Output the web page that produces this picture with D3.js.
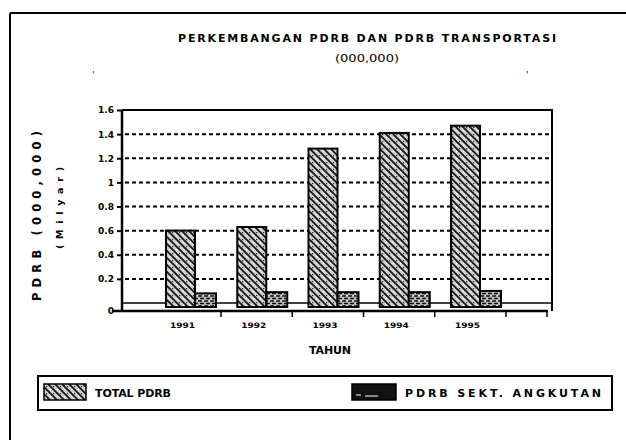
<!DOCTYPE html>
<html><head><meta charset="utf-8">
<script src="https://cdn.jsdelivr.net/npm/d3@7"></script>
<style>body{margin:0;background:#fff}svg{display:block}</style>
</head><body>
<svg id="c" width="626" height="440"></svg>
<script>
// ---- data ----
const years = ["1991", "1992", "1993", "1994", "1995"];
const totalPdrb = [0.60, 0.63, 1.28, 1.41, 1.47];
const pdrbAngkutan = [0.08, 0.09, 0.09, 0.09, 0.10];
const yTicks = [0, 0.2, 0.4, 0.6, 0.8, 1, 1.2, 1.4, 1.6];
const yTickLabels = ["0", "0.2", "0.4", "0.6", "0.8", "1", "1.2", "1.4", "1.6"];
const seriesNames = ["TOTAL PDRB", "PDRB SEKT. ANGKUTAN"];
const titleLines = ["PERKEMBANGAN PDRB DAN PDRB TRANSPORTASI", "(000,000)"];
const yTitle = "PDRB (000,000)";
const yTitle2 = "(Milyar)";
const xTitle = "TAHUN";

// ---- layout ----
const svg = d3.select("#c");
const font = "'DejaVu Sans', sans-serif";
const plotL = 122, plotR = 552, plotT = 110, floorY = 303, axisY = 311;

const defs = svg.append("defs");
const pA = defs.append("pattern").attr("id", "hatchA").attr("patternUnits", "userSpaceOnUse")
  .attr("width", 7).attr("height", 7);
pA.append("rect").attr("width", 7).attr("height", 7).attr("fill", "#cfcfcf");
pA.append("path").attr("d", "M0,0 L7,7 M-2,5 L2,9 M5,-2 L9,2").attr("stroke", "#111").attr("stroke-width", 1.7);
pA.append("rect").attr("x", 4).attr("y", 1).attr("width", 1.2).attr("height", 1.2).attr("fill", "#222");
pA.append("rect").attr("x", 1).attr("y", 4).attr("width", 1.2).attr("height", 1.2).attr("fill", "#fff");

const pB = defs.append("pattern").attr("id", "hatchB").attr("patternUnits", "userSpaceOnUse")
  .attr("width", 6).attr("height", 5);
pB.append("rect").attr("width", 6).attr("height", 5).attr("fill", "#bdbdbd");
pB.append("path").attr("d", "M0,1 L4,1 M2,3.5 L6,3.5").attr("stroke", "#111").attr("stroke-width", 1.3);
pB.append("rect").attr("x", 5).attr("y", 0).attr("width", 1).attr("height", 1).attr("fill", "#fff");

const pC = defs.append("pattern").attr("id", "darkB").attr("patternUnits", "userSpaceOnUse")
  .attr("width", 44).attr("height", 16);
pC.append("rect").attr("width", 44).attr("height", 16).attr("fill", "#111");
pC.append("path").attr("d", "M4,11 L9,11 M13,12 L26,12").attr("stroke", "#fff").attr("stroke-width", 1);

// scales
const x = d3.scaleBand().domain(years).range([159.4, 515.6]).paddingInner(0).paddingOuter(0);
const y = d3.scaleLinear().domain([0, 1.6]).range([floorY, plotT]);
const totalW = 29, sectW = 21;
const cx = d => x(d) + x.bandwidth() / 2;

// outer frame
svg.append("line").attr("x1", 10).attr("x2", 626).attr("y1", 13).attr("y2", 13).attr("stroke", "#000").attr("stroke-width", 2);
svg.append("line").attr("x1", 10).attr("x2", 10).attr("y1", 13).attr("y2", 440).attr("stroke", "#000").attr("stroke-width", 2);

// titles
svg.append("text").attr("x", 367).attr("y", 42).attr("text-anchor", "middle")
  .attr("font-family", font).attr("font-weight", "bold").attr("font-size", 11)
  .attr("textLength", 378).attr("lengthAdjust", "spacing").text(titleLines[0]);
svg.append("text").attr("x", 367).attr("y", 62).attr("text-anchor", "middle")
  .attr("font-family", font).attr("font-size", 11)
  .attr("textLength", 64).attr("lengthAdjust", "spacingAndGlyphs").text(titleLines[1]);
// small specks
svg.append("text").attr("x", 92).attr("y", 78).attr("font-family", font).attr("font-size", 9).text("'");
svg.append("text").attr("x", 526).attr("y", 78).attr("font-family", font).attr("font-size", 9).text("'");

// gridlines
svg.append("g").selectAll("line").data(yTicks.filter(v => v > 0 && v < 1.6)).join("line")
  .attr("x1", plotL + 3).attr("x2", plotR - 2)
  .attr("y1", d => y(d)).attr("y2", d => y(d))
  .attr("stroke", "#000").attr("stroke-width", 2).attr("stroke-dasharray", "4,3");

// floor line at zero
svg.append("line").attr("x1", plotL).attr("x2", plotR).attr("y1", y(0)).attr("y2", y(0))
  .attr("stroke", "#000").attr("stroke-width", 1.5);

// plot frame (top & right)
svg.append("path").attr("d", `M${plotL},${plotT} H${plotR} V${axisY}`).attr("fill", "none")
  .attr("stroke", "#000").attr("stroke-width", 2);

// bars
const g = svg.append("g");
g.selectAll("rect.tot").data(years).join("rect").attr("class", "tot")
  .attr("x", d => cx(d) - totalW).attr("width", totalW)
  .attr("y", (d, i) => y(totalPdrb[i])).attr("height", (d, i) => y(0) - y(totalPdrb[i]) + 4)
  .attr("fill", "url(#hatchA)").attr("stroke", "#000").attr("stroke-width", 2);
g.selectAll("rect.sec").data(years).join("rect").attr("class", "sec")
  .attr("x", d => cx(d)).attr("width", sectW)
  .attr("y", (d, i) => y(pdrbAngkutan[i])).attr("height", (d, i) => y(0) - y(pdrbAngkutan[i]) + 4)
  .attr("fill", "url(#hatchB)").attr("stroke", "#000").attr("stroke-width", 2);

// y axis
const yAxis = svg.append("g").attr("transform", `translate(${plotL},0)`)
  .call(d3.axisLeft(y).tickValues(yTicks).tickFormat((d, i) => yTickLabels[i]).tickSize(5).tickSizeOuter(0));
yAxis.select(".domain").remove();
yAxis.selectAll(".tick").filter(d => d === 0).attr("transform", `translate(0,${axisY})`);
yAxis.selectAll("line").attr("stroke", "#000").attr("stroke-width", 2);
yAxis.selectAll("text").attr("font-family", font).attr("font-weight", "bold").attr("font-size", 9).attr("fill", "#000");
svg.append("line").attr("x1", plotL).attr("x2", plotL).attr("y1", plotT).attr("y2", axisY)
  .attr("stroke", "#000").attr("stroke-width", 2.5);

// x axis
svg.append("line").attr("x1", 112).attr("x2", 548).attr("y1", axisY).attr("y2", axisY)
  .attr("stroke", "#000").attr("stroke-width", 2.5);
svg.append("g").selectAll("line").data(years).join("line")
  .attr("x1", d => cx(d) + 26).attr("x2", d => cx(d) + 26)
  .attr("y1", axisY).attr("y2", axisY + 6).attr("stroke", "#000").attr("stroke-width", 1.5);
svg.append("line").attr("x1", 547).attr("x2", 547).attr("y1", axisY).attr("y2", axisY + 6)
  .attr("stroke", "#000").attr("stroke-width", 1.5);
svg.append("g").selectAll("text").data(years).join("text")
  .attr("x", d => cx(d) - totalW / 2 + 2).attr("y", axisY + 17).attr("text-anchor", "middle")
  .attr("font-family", font).attr("font-weight", "bold").attr("font-size", 7.5)
  .attr("textLength", 25).attr("lengthAdjust", "spacingAndGlyphs").text(d => d);

svg.append("text").attr("x", 330).attr("y", 354).attr("text-anchor", "middle")
  .attr("font-family", font).attr("font-weight", "bold").attr("font-size", 11)
  .attr("textLength", 42).attr("lengthAdjust", "spacing").text(xTitle);

// y titles
svg.append("text").attr("transform", "translate(41,216) rotate(-90)").attr("text-anchor", "middle")
  .attr("font-family", font).attr("font-weight", "bold").attr("font-size", 11.5)
  .attr("textLength", 170).attr("lengthAdjust", "spacing").text(yTitle);
svg.append("text").attr("transform", "translate(63,208) rotate(-90)").attr("text-anchor", "middle")
  .attr("font-family", font).attr("font-weight", "bold").attr("font-size", 9.5)
  .attr("textLength", 82).attr("lengthAdjust", "spacing").text(yTitle2);

// legend
svg.append("rect").attr("x", 38).attr("y", 376).attr("width", 574).attr("height", 34)
  .attr("fill", "none").attr("stroke", "#000").attr("stroke-width", 2);
const legFill = ["url(#hatchA)", "url(#darkB)"];
const legX = [44, 352];
const legW = [42, 44];
const legTextLen = [76, 196];
seriesNames.forEach((s, i) => {
  svg.append("rect").attr("x", legX[i]).attr("y", 384).attr("width", legW[i]).attr("height", 16)
    .attr("fill", legFill[i]).attr("stroke", "#000").attr("stroke-width", 1.5);
  svg.append("text").attr("x", legX[i] + legW[i] + 9).attr("y", 396.5)
    .attr("font-family", font).attr("font-weight", "bold").attr("font-size", 11)
    .attr("textLength", legTextLen[i]).attr("lengthAdjust", "spacing").text(s);
});
</script>
</body></html>
